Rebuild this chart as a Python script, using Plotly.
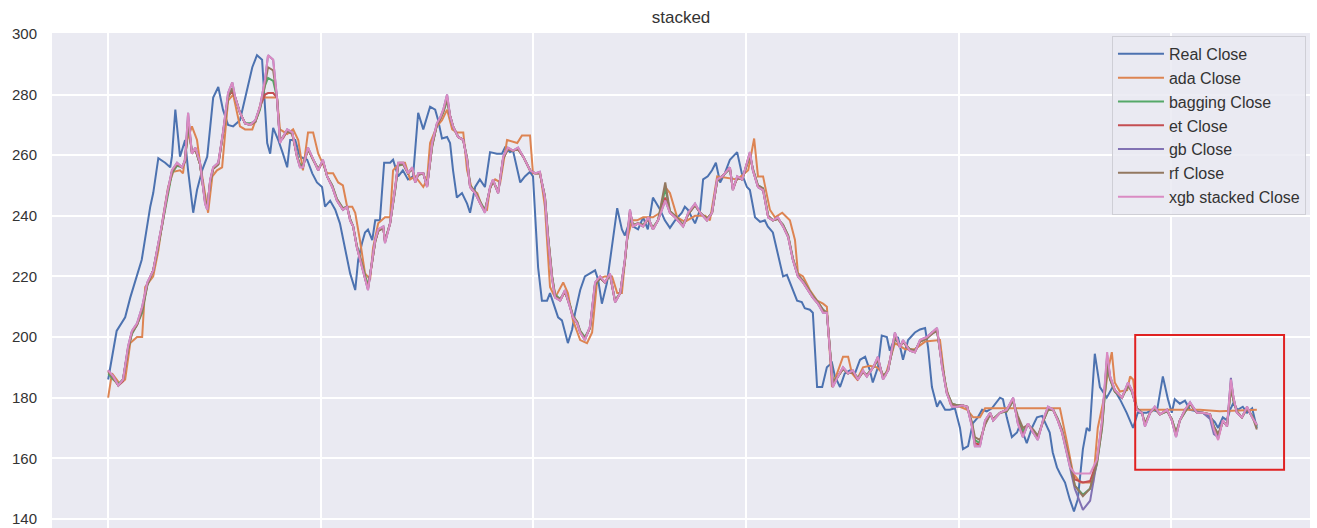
import plotly.graph_objects as go

# ---- closing price: actual series (trading-day index, price) ----
real_x = [
    0.0, 2.0, 4.0, 5.2, 7.9, 9.9, 10.6, 11.8, 13.4, 14.6,
    15.0, 15.8, 16.9, 18.1, 18.8, 20.0, 20.9, 22.1, 23.3, 24.7,
    25.9, 27.0, 28.2, 29.4, 31.0, 32.7, 33.9, 35.0, 36.2, 37.4,
    38.1, 38.8, 40.0, 41.1, 42.1, 42.8, 44.0, 45.1, 46.8, 48.0,
    49.1, 50.3, 51.0, 52.2, 53.4, 54.5, 55.7, 56.9, 58.1, 58.8,
    59.7, 60.4, 61.1, 62.1, 62.8, 63.9, 64.9, 66.3, 67.0, 68.2,
    69.3, 70.5, 71.7, 72.9, 74.1, 75.7, 76.9, 77.6, 78.5, 79.7,
    80.4, 81.1, 82.0, 83.2, 84.4, 85.1, 86.3, 87.4, 88.6, 89.8,
    91.4, 92.6, 93.3, 94.5, 95.2, 96.9, 98.0, 99.2, 99.9, 101.1,
    102.0, 103.2, 103.9, 105.1, 105.8, 106.7, 107.4, 108.1, 109.1, 109.8,
    111.0, 112.1, 113.3, 114.5, 115.2, 116.1, 117.3, 118.5, 119.7, 120.8,
    121.5, 122.7, 123.4, 124.6, 125.8, 126.9, 128.1, 129.8, 130.9, 132.1,
    133.3, 134.9, 135.6, 136.3, 138.0, 139.2, 139.9, 141.0, 142.0, 142.9,
    143.9, 145.0, 146.2, 147.9, 149.0, 150.2, 150.9, 152.1, 153.3, 154.4,
    155.1, 156.3, 157.5, 158.7, 159.6, 160.8, 162.0, 163.1, 163.8, 165.0,
    165.7, 166.7, 167.9, 169.0, 170.2, 170.9, 172.1, 173.2, 174.4, 175.6,
    176.8, 178.0, 179.1, 179.8, 181.0, 181.9, 183.1, 183.8, 184.5, 185.7,
    186.9, 188.1, 189.7, 190.9, 192.1, 192.8, 193.7, 194.9, 195.6, 196.8,
    197.9, 199.1, 200.3, 201.0, 202.2, 203.3, 204.5, 205.5, 206.6, 207.8,
    209.0, 209.7, 210.4, 211.3, 212.5, 213.7, 214.4, 216.0, 217.2, 218.4,
    219.6, 220.3, 221.4, 222.1, 223.1, 223.8, 225.0, 226.1, 227.1, 228.0,
    229.2, 230.1, 230.8, 232.0, 233.2, 234.8, 236.2, 237.9, 239.5, 241.0,
    242.1, 244.2, 245.4, 246.6, 248.0, 249.2, 250.1, 250.8, 252.0, 253.2,
    254.4, 256.0, 257.4, 259.1, 260.2, 261.0, 262.1, 263.1, 263.8, 264.5,
    265.6, 266.8, 267.8, 269.0, 270.1,
]
real_close = [
    186, 202, 206.5, 213, 225.5, 243, 247.5, 259, 257.5, 256,
    259.5, 275, 259.5, 265, 255, 241, 248.5, 255, 259.5, 279,
    282.5, 275, 270, 269.5, 271.5, 281.5, 289, 293, 291.5, 264,
    260.5, 269, 265, 260.5, 256, 265, 265, 259.5, 258.5, 254,
    251, 249.5, 243, 245, 242, 237.5, 229.5, 221, 215.5, 225.5,
    231, 234.5, 235.5, 232, 238.5, 238.5, 257.5, 257.5, 258.5, 253,
    255, 252, 253, 274, 268.5, 276, 275, 271.5, 265.5, 266,
    264, 255, 246, 247.5, 244, 241, 249.5, 252, 249.5, 261,
    260.5, 260.5, 262.5, 261, 261.5, 251, 253, 254.5, 253, 223,
    212, 212, 214.5, 209, 206.5, 205.5, 201.5, 198, 202.5, 208,
    215.5, 220, 221, 222, 219, 211, 218, 231, 242.5, 235.5,
    233.5, 238.5, 236.5, 235.5, 239.5, 235.5, 246, 242, 238.5, 236,
    238.5, 241, 243, 242, 237.5, 242, 252, 253, 255, 257.5,
    251, 254, 258.5, 261, 254, 249.5, 248.5, 239.5, 238, 238.5,
    236.5, 234.5, 227.5, 220, 220.5, 216.5, 212, 211.5, 209.5, 209,
    208, 183.5, 183.5, 190, 191.5, 187, 183.5, 188, 189, 188,
    192.5, 193.5, 189, 185, 190, 200.5, 200, 195.5, 198, 200,
    192.5, 199, 201.5, 202.5, 203, 196.5, 183.5, 177, 179, 176,
    176, 176.5, 170, 163, 164, 171.5, 173.5, 176, 175.5, 176.5,
    178.5, 180, 179.5, 173.5, 167, 168.5, 171, 165, 170, 173.5,
    174, 172, 168.5, 162, 157, 155, 152, 146.5, 142.5, 146.5,
    163, 170, 169, 194.5, 183.5, 180, 183.5, 179.5, 175, 170,
    175, 175, 176, 175.5, 187, 179.5, 175, 179.5, 178, 179,
    176, 175.5, 175, 173.5, 172, 170, 173.5, 172.5, 176, 178,
    176, 177, 175, 176.5, 170,
]

# ---- AdaBoost prediction ----
ada_x = [
    0.0, 0.9, 2.8, 4.0, 5.2, 6.8, 8.0, 8.7, 10.6, 11.8,
    12.9, 14.1, 15.3, 16.9, 17.6, 18.6, 19.7, 20.9, 21.6, 23.5,
    24.5, 25.6, 26.8, 28.2, 29.4, 31.0, 32.2, 33.9, 35.3, 36.2,
    39.7, 40.4, 42.1, 43.5, 44.7, 45.8, 47.0, 48.2, 49.4, 51.5,
    52.9, 54.1, 55.2, 56.2, 57.4, 58.1, 59.2, 60.4, 61.6, 62.3,
    63.5, 65.1, 66.3, 67.0, 68.6, 69.8, 71.0, 72.2, 74.1, 75.0,
    75.7, 77.3, 78.5, 79.7, 80.9, 82.0, 83.5, 84.4, 85.6, 86.8,
    87.9, 89.1, 89.8, 91.0, 92.2, 93.8, 96.2, 97.3, 99.2, 99.9,
    101.6, 102.7, 103.9, 105.1, 107.0, 108.1, 109.3, 111.0, 112.6, 113.8,
    115.0, 116.8, 118.5, 119.7, 120.8, 122.0, 123.2, 124.4, 125.8, 128.1,
    129.8, 131.0, 132.1, 133.8, 135.6, 138.0, 140.4, 141.5, 143.2, 147.9,
    150.5, 151.9, 152.8, 154.0, 155.6, 156.8, 158.5, 160.3, 161.5, 162.2,
    163.4, 165.0, 166.7, 168.1, 169.0, 170.2, 171.4, 172.8, 174.0, 174.9,
    176.1, 177.5, 179.1, 180.8, 182.7, 185.0, 187.4, 189.7, 192.1, 195.6,
    196.8, 198.0, 200.3, 202.0, 203.4, 205.0, 206.2, 223.8, 225.5, 226.9,
    228.6, 231.6, 232.7, 234.4, 235.1, 236.0, 236.7, 237.9, 239.6, 240.3,
    241.0, 241.9, 256.7, 261.4, 270.1,
]
ada_close = [
    180, 188, 184.5, 186, 198, 200, 200, 216.5, 220, 228.5,
    239.5, 249.5, 254.5, 255, 254, 265, 269.5, 265, 257.5, 241,
    253, 255, 256, 278, 280, 269.5, 268.5, 268.5, 274, 279,
    279, 268.5, 267, 268.5, 265, 255, 267.5, 267.5, 260.5, 254,
    254, 251, 250, 243, 243, 241, 232, 221, 219, 229.5,
    237.5, 239.5, 239.5, 255, 257.5, 257.5, 252, 253, 249.5, 252,
    264, 269.5, 271.5, 275, 268.5, 267.5, 267.5, 255, 248.5, 247.5,
    243, 242, 249.5, 252, 251, 265, 264, 266.5, 266.5, 254,
    254, 243, 216.5, 213, 218, 214.5, 205.5, 199, 198, 201.5,
    219, 220, 220, 214.5, 214.5, 232, 238.5, 238.5, 239.5, 239.5,
    241, 249.5, 247.5, 239.5, 238, 240, 240, 238.5, 253, 252,
    255, 265.5, 253, 253, 242, 239.5, 241, 238.5, 232, 221,
    220, 215.5, 212, 211, 210, 183.5, 188, 193.5, 193.5, 188,
    186, 190, 190.5, 190, 187, 198, 196, 196, 198.5, 199,
    185, 178, 177, 176, 173.5, 173.5, 176.5, 176.5, 165, 155,
    152, 152, 170, 181.5, 189, 195, 185, 182, 182.5, 187,
    186, 176, 176, 175.5, 176,
]

# ---- tree-ensemble predictions share one day index ----
pred_x = [
    0.0, 1.2, 2.4, 3.5, 4.7, 5.6, 6.8, 8.0, 9.2, 10.6,
    11.8, 12.7, 13.9, 15.0, 16.2, 17.4, 18.1, 18.8, 19.7, 20.5,
    21.6, 22.8, 23.3, 24.0, 24.7, 25.9, 27.0, 28.2, 29.2, 29.9,
    31.0, 32.2, 33.4, 34.6, 35.7, 36.9, 37.6, 38.8, 39.7, 40.4,
    41.1, 42.1, 43.3, 44.4, 45.1, 45.8, 47.0, 48.2, 49.4, 50.5,
    51.5, 52.7, 53.8, 55.2, 56.2, 56.9, 57.6, 58.5, 59.7, 60.4,
    61.1, 62.1, 62.8, 63.5, 64.7, 65.1, 66.3, 67.5, 68.2, 69.4,
    70.5, 71.5, 72.2, 72.9, 74.1, 75.0, 76.2, 77.3, 78.1, 78.8,
    79.7, 80.4, 81.1, 82.3, 83.5, 84.4, 85.1, 86.3, 87.5, 88.6,
    89.8, 90.5, 91.7, 92.9, 94.0, 95.2, 96.4, 97.6, 99.2, 100.4,
    101.5, 102.7, 103.4, 104.4, 105.1, 106.3, 107.4, 108.6, 109.3, 110.3,
    111.0, 112.1, 113.3, 114.5, 115.7, 116.8, 118.0, 119.2, 120.4, 121.5,
    122.7, 123.4, 124.6, 125.8, 127.0, 128.1, 129.3, 131.0, 132.1, 133.3,
    135.2, 136.4, 138.0, 139.2, 140.8, 142.0, 143.2, 144.4, 145.5, 146.2,
    146.9, 147.9, 149.1, 150.2, 150.9, 151.6, 152.8, 154.0, 155.2, 156.3,
    157.5, 158.7, 159.9, 161.0, 162.2, 163.4, 164.6, 165.7, 166.9, 168.1,
    169.0, 169.8, 170.4, 171.6, 172.8, 174.0, 175.1, 176.3, 177.5, 178.4,
    179.9, 181.0, 182.2, 183.4, 185.0, 186.2, 186.9, 188.5, 189.7, 190.9,
    192.5, 193.7, 194.9, 196.1, 197.2, 198.4, 199.6, 200.8, 202.0, 203.1,
    203.8, 205.0, 206.2, 207.4, 208.1, 209.7, 211.3, 212.8, 213.9, 215.1,
    216.3, 217.5, 218.6, 219.8, 221.0, 222.2, 223.3, 224.3, 225.2, 226.2,
    227.3, 229.2, 230.9, 232.5, 233.7, 234.9, 235.6, 236.7, 238.4, 239.8, 240.7,
    241.9, 243.1, 243.8, 245.0, 246.1, 247.3, 249.0, 250.1, 251.1, 252.0,
    253.2, 254.4, 256.0, 257.4, 259.1, 260.0, 261.0, 262.1, 263.1, 264.0,
    264.6, 265.4, 266.6, 267.8, 269.0, 270.1,
]

bagging_close = [
    188, 186, 184.5, 186, 196, 201, 204, 208, 217, 222,
    230, 237, 246, 254, 256.5, 256, 258, 270, 261, 262,
    257, 245, 243, 251, 255.5, 257, 267, 279, 282, 279,
    274, 270.5, 270.5, 271, 275, 283, 285.5, 284.5, 279, 265,
    266, 268, 267, 260, 257, 256.5, 262, 258.5, 255.5, 258,
    253, 250, 245.5, 242.5, 243, 239, 236.5, 230, 224, 220,
    217, 225, 231.5, 235, 236, 232, 237.5, 248.5, 256.5, 257,
    254, 255.5, 251.5, 253.5, 254, 250, 263, 270, 272, 274,
    278, 273, 269.5, 266, 265, 259, 250, 248, 244.5, 242,
    249, 251.5, 248, 259, 262, 261.5, 262, 259.5, 255, 254,
    254, 246.5, 234, 220, 214, 212.5, 215, 210.5, 207, 205,
    202, 200, 203, 217, 219.5, 218, 220.5, 212, 214.5, 225,
    241, 237, 237.5, 237, 239, 236, 238.5, 249, 241.5, 240,
    237, 240.5, 243.5, 241, 239, 241, 251.5, 253, 254.5, 255.5,
    249, 252.5, 252, 257, 260, 255.5, 250, 249, 240, 238.5,
    239, 237, 233.5, 226, 220.5, 218.5, 216, 213.5, 211.5, 209,
    208, 196, 185, 187, 189.5, 188, 188.5, 186.5, 188.5, 187.5,
    190, 192.5, 187, 189, 200, 197, 198.5, 196, 195.5, 198.5,
    199.5, 201.5, 202, 191, 182, 178, 177.5, 177.5, 177, 171.5,
    166, 165, 171.5, 174.5, 173, 175, 175.5, 179, 173, 169,
    171, 169, 167, 172, 176, 176, 173, 169, 164, 158,
    151, 148, 150, 158, 170, 190, 186, 182, 180, 184, 182,
    176.5, 175, 171.5, 175, 176.5, 174.5, 175.5, 173, 168.5, 172.5,
    175.5, 178, 175, 175, 174.5, 170.5, 167.5, 172, 171, 183,
    179, 175.5, 173.5, 176.5, 174, 170.5,
]

et_close = [
    189, 186.5, 184, 185.5, 196.5, 201.5, 204, 209, 217.5, 222,
    230.5, 237, 247, 254.5, 257, 256, 258, 272, 260.5, 262,
    257, 244.5, 242.5, 251.5, 255.5, 257, 267, 279.5, 281, 279,
    274, 270.5, 270, 271, 276, 280, 280.5, 280.5, 279, 265,
    265.5, 268, 267, 259.5, 256.5, 256, 262, 258.5, 255, 258,
    253, 249.5, 245, 242, 243, 238.5, 236.5, 229.5, 223.5, 219.5,
    216, 225, 231.5, 235, 236, 231.5, 237.5, 249, 257, 257,
    254, 255.5, 251, 253.5, 254, 249.5, 263.5, 270, 272, 274.5,
    279, 273, 269.5, 266, 265, 258.5, 249.5, 247.5, 244, 241.5,
    249, 251.5, 247.5, 259, 262, 261.5, 262, 259.5, 255, 254,
    254, 246, 233.5, 219.5, 213.5, 212, 215, 210, 206.5, 204.5,
    201.5, 199.5, 203, 217.5, 219.5, 218, 220.5, 211.5, 214.5, 225,
    241.5, 236.5, 237.5, 236.5, 239, 235.5, 238.5, 246, 241, 239.5,
    236.5, 240.5, 243.5, 241, 238.5, 241, 251.5, 253, 255, 256,
    248.5, 252.5, 252, 257, 260.5, 255, 249.5, 248.5, 239.5, 238.5,
    239, 236.5, 233, 225.5, 220, 218, 215.5, 213, 211, 208.5,
    208, 195.5, 184, 187, 189.5, 188, 188.5, 186, 188.5, 187,
    190, 193, 186.5, 189, 201, 196.5, 198.5, 195.5, 195, 198.5,
    200, 201, 202.5, 190.5, 181.5, 177.5, 177, 177.5, 177, 171,
    165, 164.5, 172, 175, 172.5, 175, 176, 179.5, 172, 167.5,
    171.5, 168.5, 166.5, 172, 176.5, 176, 172.5, 168.5, 163.5, 157.5,
    153, 152, 152.5, 159, 171.5, 193, 186.5, 182.5, 180, 184.5, 182.5,
    176, 175, 171, 175, 176.5, 174.5, 176, 172.5, 167.5, 172.5,
    176, 178, 175, 175, 174.5, 170, 166.5, 172.5, 170.5, 185,
    180, 175, 173.5, 176.5, 173.5, 171,
]

gb_close = [
    189, 187, 184, 186, 197, 202, 204.5, 210, 218, 222,
    231, 237.5, 247.5, 255, 257.5, 256, 258.5, 274, 260.5, 262.5,
    257.5, 244, 242, 252, 256, 257.5, 267.5, 280.5, 284, 279,
    274, 270.5, 270, 271.5, 276, 285, 293, 291.5, 279, 264,
    266, 268.5, 267.5, 259.5, 256, 256, 262.5, 258.5, 255, 258.5,
    253, 249.5, 245, 242, 243, 238.5, 236.5, 229.5, 223, 219,
    215.5, 225.5, 232, 235.5, 236.5, 231, 237.5, 249.5, 257.5, 257.5,
    254, 256, 251, 254, 254, 249.5, 264, 270.5, 272.5, 275,
    280, 273, 269.5, 266, 265, 258.5, 249.5, 247.5, 244, 241,
    249.5, 252, 247.5, 259.5, 262.5, 261.5, 262.5, 259.5, 255, 254,
    254.5, 246, 233, 219, 213, 212, 215.5, 210, 206.5, 204.5,
    201.5, 199, 203.5, 218, 220, 218, 221, 211.5, 214.5, 225.5,
    242, 236.5, 237.5, 236.5, 239.5, 235.5, 238.5, 245, 241, 239.5,
    236.5, 241, 244, 241, 238.5, 241, 252, 253, 255, 256,
    248.5, 253, 252, 257.5, 261, 255, 249.5, 248.5, 239.5, 238.5,
    239.5, 236.5, 233, 225.5, 220, 218, 215.5, 213, 211, 208,
    208, 195, 183.5, 187, 190, 188, 189, 186, 189, 187,
    190, 193.5, 186, 189, 201.5, 196.5, 199, 195.5, 195, 199,
    200, 201.5, 203, 190, 181.5, 177, 177, 177.5, 177, 170.5,
    164, 164, 172.5, 175, 172.5, 175, 176, 180, 171.5, 167,
    171.5, 168.5, 166, 172.5, 177, 176, 172.5, 168.5, 163, 157,
    150, 143, 146, 159, 172, 194, 187, 182.5, 180, 185, 182.5,
    176, 175, 170.5, 175, 177, 174.5, 176, 172.5, 167, 172.5,
    176, 178.5, 175, 175, 173, 168, 167, 172.5, 170.5, 186.5,
    180, 175, 173.5, 177, 173.5, 171,
]

rf_close = [
    188.5, 186.5, 184, 186, 196, 201.5, 204, 209, 217, 222,
    230.5, 237, 247, 254.5, 257, 256, 258, 271, 261, 262,
    257, 245, 243, 251.5, 255.5, 257, 267, 279, 282, 279,
    274, 270.5, 270, 271, 275.5, 283.5, 289, 288, 279, 265,
    266, 268, 267, 260, 256.5, 256.5, 262, 258.5, 255.5, 258,
    253, 250, 245.5, 242.5, 243, 239, 236.5, 230, 224, 219.5,
    216.5, 225, 231.5, 235, 236, 231.5, 237.5, 249, 257, 257,
    254, 255.5, 251.5, 253.5, 254, 250, 263, 270, 272, 274.5,
    278.5, 273, 269.5, 266, 265, 259, 250, 248, 244.5, 241.5,
    249, 251.5, 248, 259, 262, 261.5, 262, 259.5, 255, 254,
    254, 246.5, 234, 220, 213.5, 212.5, 215, 210.5, 207, 205,
    202, 199.5, 203, 217.5, 219.5, 218, 220.5, 212, 214.5, 225,
    241, 237, 237.5, 237, 239, 236, 238.5, 251, 241.5, 240,
    237, 240.5, 243.5, 241, 239, 241, 251.5, 253, 254.5, 255.5,
    249, 252.5, 252, 257, 260, 255.5, 250, 249, 240, 238.5,
    239, 237, 233.5, 226, 220.5, 218.5, 216, 213.5, 211.5, 209,
    208, 196, 185, 187, 189.5, 188, 188.5, 186.5, 188.5, 187.5,
    190, 192.5, 187, 189, 200, 197, 198.5, 196, 195.5, 198.5,
    199.5, 201, 202, 191, 182, 178, 177.5, 177.5, 177, 172,
    167, 166, 171, 174.5, 173, 175, 175.5, 179, 174, 170,
    171, 169.5, 167.5, 172, 176, 176, 173, 169.5, 164.5, 158.5,
    151, 147.5, 150, 158.5, 170, 191, 186, 182, 180, 184, 182,
    176.5, 175, 171.5, 175, 176.5, 174.5, 175.5, 173, 168.5, 172.5,
    175.5, 178, 175, 175, 174.5, 170.5, 168, 172, 171, 183,
    179, 175.5, 173.5, 176.5, 174, 169.5,
]

xgb_stacked_close = [
    189, 187, 184, 186, 197, 202, 204.5, 210, 218, 222,
    231, 237.5, 247.5, 255, 257.5, 256, 258.5, 274, 260.5, 262.5,
    257.5, 244, 242, 252, 256, 257.5, 267.5, 280.5, 284, 279,
    274, 270.5, 270, 271.5, 276, 285, 293, 291.5, 279, 264,
    266, 268.5, 267.5, 259.5, 256, 256, 262.5, 258.5, 255, 258.5,
    253, 249.5, 245, 242, 243, 238.5, 236.5, 229.5, 223, 219,
    215.5, 225.5, 232, 235.5, 236.5, 231, 237.5, 249.5, 257.5, 257.5,
    254, 256, 251, 254, 254, 249.5, 264, 270.5, 272.5, 275,
    280, 273, 269.5, 266, 265, 258.5, 249.5, 247.5, 244, 241,
    249.5, 252, 247.5, 259.5, 262.5, 261.5, 262.5, 259.5, 255, 254,
    254.5, 246, 233, 219, 213, 212, 215.5, 210, 206.5, 204.5,
    201.5, 199, 203.5, 218, 220, 218, 221, 211.5, 214.5, 225.5,
    242, 236.5, 237.5, 236.5, 239.5, 235.5, 238.5, 245, 241, 239.5,
    236.5, 241, 244, 241, 238.5, 241, 252, 253, 255, 256,
    248.5, 253, 252, 257.5, 261, 255, 249.5, 248.5, 239.5, 238.5,
    239.5, 236.5, 233, 225.5, 220, 218, 215.5, 213, 211, 208,
    208, 195, 183.5, 187, 190, 188, 189, 186, 189, 187,
    190, 193.5, 186, 189, 201.5, 196.5, 199, 195.5, 195, 199,
    200, 201.5, 203, 190, 181.5, 177, 177, 177.5, 177, 170.5,
    164, 164, 172.5, 175, 172.5, 175, 176, 180, 171.5, 167,
    171.5, 168.5, 166, 172.5, 177, 176, 172.5, 168.5, 163, 157,
    155, 155, 155, 159.5, 172.5, 195, 187, 182.5, 180, 185, 182.5,
    176, 175, 170.5, 175, 177, 174.5, 176, 172.5, 167, 172.5,
    176, 178.5, 175, 175, 174.5, 169.5, 166, 172.5, 170.5, 186,
    180, 175, 173.5, 177, 173.5, 171,
]

# highlighted recent window (day index, price)
highlight_days = [241.5, 276.5]
highlight_prices = [156.2, 200.7]

series = [
    ("Real Close", real_x, real_close, "#4C72B0"),
    ("ada Close", ada_x, ada_close, "#DD8452"),
    ("bagging Close", pred_x, bagging_close, "#55A868"),
    ("et Close", pred_x, et_close, "#C44E52"),
    ("gb Close", pred_x, gb_close, "#8172B3"),
    ("rf Close", pred_x, rf_close, "#937860"),
    ("xgb stacked Close", pred_x, xgb_stacked_close, "#DA8BC3"),
]

FONT = "Arial, 'Liberation Sans', Helvetica, sans-serif"
TEXT = "#333333"

fig = go.Figure()
for name, xs, ys, color in series:
    fig.add_trace(go.Scatter(
        x=xs, y=ys, name=name, mode="lines",
        line=dict(color=color, width=2),
    ))

fig.add_shape(
    type="rect", xref="x", yref="y",
    x0=highlight_days[0], x1=highlight_days[1],
    y0=highlight_prices[0], y1=highlight_prices[1],
    line=dict(color="#E02222", width=2), fillcolor="rgba(0,0,0,0)",
)

fig.update_layout(
    width=1317, height=528,
    margin=dict(l=52, r=7, t=33, b=0),
    paper_bgcolor="white",
    plot_bgcolor="#EAEAF2",
    font=dict(family=FONT, color=TEXT),
    title=dict(
        text="stacked", x=0.5, xref="paper", xanchor="center",
        y=1 - 17 / 528, yref="container", yanchor="middle",
        font=dict(size=17, color=TEXT),
    ),
    legend=dict(
        x=0.9968, xanchor="right", y=0.994, yanchor="top",
        bgcolor="rgba(234,234,242,0.85)",
        bordercolor="#CFCFD6", borderwidth=1,
        itemwidth=46,
        font=dict(size=16, color=TEXT),
    ),
    showlegend=True,
)

fig.update_xaxes(
    range=[-13.2, 282.6], tick0=0, dtick=50,
    showgrid=True, gridcolor="white", gridwidth=1.5,
    zeroline=False, showline=False, showticklabels=False, ticks="",
)
fig.update_yaxes(
    range=[137.0, 300.3], tick0=140, dtick=20,
    showgrid=True, gridcolor="white", gridwidth=1.5,
    zeroline=False, showline=False, ticks="",
    ticklabelstandoff=14,
    tickfont=dict(size=15, color=TEXT),
)

fig.write_html("out.html")
